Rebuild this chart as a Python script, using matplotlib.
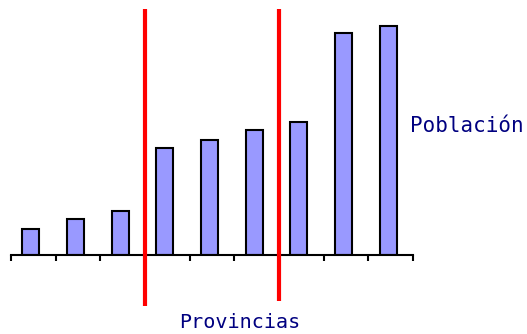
import matplotlib
matplotlib.use("Agg")
import matplotlib.pyplot as plt
import numpy as np

# Population per province (arbitrary units)
provincias = ["P1", "P2", "P3", "P4", "P5", "P6", "P7", "P8", "P9"]
poblacion = [26, 36, 44, 107, 115, 125, 133, 222, 229]
# Group boundaries between provinces
separadores = [3, 6]

W, H = 527, 334
fig = plt.figure(figsize=(W / 100, H / 100), dpi=100)
fig.patch.set_facecolor("white")

base_px = 255
ax = fig.add_axes([11 / W, (H - base_px) / H, 402 / W, base_px / H])
ax.set_xlim(0, len(provincias))
ax.set_ylim(0, base_px)

x = np.arange(len(provincias)) + 0.5 - 0.055
ax.bar(x, poblacion, width=0.38, color="#9999ff", edgecolor="black",
       linewidth=1.5, zorder=2)

for s, bottom in zip(separadores, [-51, -46]):
    ax.vlines(s, bottom, 246, colors="#ff0000", linewidth=3.0,
              clip_on=False, zorder=3)

for side in ["top", "right", "left"]:
    ax.spines[side].set_visible(False)
ax.spines["bottom"].set_linewidth(1.5)
ax.set_yticks([])
ax.set_xticks(np.arange(len(provincias) + 1))
ax.set_xticklabels([])
ax.tick_params(axis="x", direction="out", length=4.5, width=1.5)
ax.patch.set_alpha(0)

fig.text(410 / W, 1 - 132 / H, "Población", color="#000080",
         fontsize=15, family="DejaVu Sans Mono", ha="left", va="baseline")
fig.text(240 / W, 1 - 328 / H, "Provincias", color="#000080",
         fontsize=14.5, family="DejaVu Sans Mono", ha="center",
         va="baseline")

fig.savefig("out.png", dpi=100, facecolor="white")
